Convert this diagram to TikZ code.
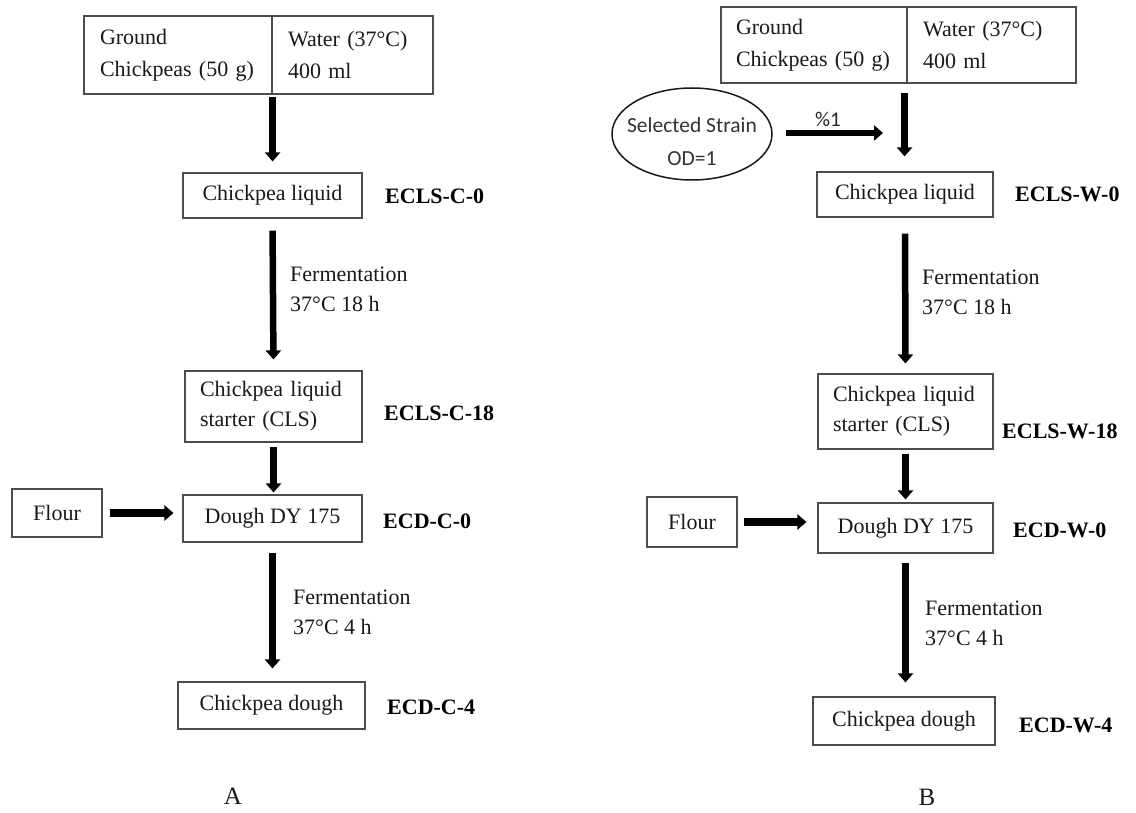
\documentclass[tikz,border=0pt]{standalone}
\usepackage{fontspec}
\setmainfont{Liberation Serif}
\newfontfamily\calibri{Carlito}
\usetikzlibrary{arrows.meta,shapes.geometric}
\newcommand\fsa{\fontsize{22}{30}\selectfont}
\newcommand\fsb{\fontsize{22}{32.5}\selectfont}
\newcommand\fsc{\fontsize{21.5}{33}\selectfont\calibri}
\begin{document}
\begin{tikzpicture}[x=1pt,y=-1pt,
  box/.style={draw=black!70, line width=1.1pt, inner sep=0pt, font=\fsa, text=black!90},
  topbox/.style={box, font=\fsb, align=left, minimum height=78pt},
  lbl/.style={anchor=west, inner sep=0pt, font=\fsa\bfseries, text=black},
  cond/.style={anchor=west, inner sep=0pt, font=\fsa, align=left, text=black!90},
  figcap/.style={inner sep=0pt, font=\fontsize{25}{28}\selectfont, text=black!90},
  arr/.style={line width=6.5pt, -{Triangle[width=15pt,length=9pt]}},
  harr/.style={line width=7.5pt, -{Triangle[width=15pt,length=9pt]}}]
\useasboundingbox (0,0) rectangle (1136,813);

% ---------------- A ----------------
\node[topbox, minimum width=188pt, text width=156pt] (tl) at (178,55) {Ground\\Chickpeas (50 g)};
\node[topbox, minimum width=161pt, text width=129pt] (tr) at (352.5,55) {Water (37°C)\\400 ml};
\node[box, minimum width=179pt, minimum height=45pt] (l1) at (272.5,195.5) {Chickpea liquid};
\node[box, minimum width=177pt, minimum height=71pt, text width=147pt, align=left] (l2) at (273.5,406.5) {Chickpea liquid\\starter (CLS)};
\node[box, minimum width=179pt, minimum height=47pt] (l3) at (272.5,518.5) {Dough DY 175};
\node[box, minimum width=90pt, minimum height=48pt] (lf) at (57,513) {Flour};
\node[box, minimum width=187pt, minimum height=47pt] (l4) at (271.5,705.5) {Chickpea dough};

\draw[arr, shorten <=2pt, shorten >=11pt] (tl.south east) -- (tl.south east |- l1.north);
\draw[arr, shorten <=12pt, shorten >=11pt] (l1.south) -- (l2.north);
\draw[arr, shorten <=4pt, shorten >=2pt] (l2.south) -- (l2.south |- l3.north);
\draw[harr, shorten <=7pt, shorten >=9pt] (lf.east) -- (lf.east -| l3.west);
\draw[arr, shorten <=10pt, shorten >=13pt] (l3.south) -- (l3.south |- l4.north);

\node[cond] (fl1) at (290,289) {Fermentation\\37°C 18 h};
\node[cond] (fl2) at (293,612) {Fermentation\\37°C 4 h};
\node[lbl] (el1) at (385,196) {ECLS-C-0};
\node[lbl] (el2) at (384,413) {ECLS-C-18};
\node[lbl] (el3) at (383,521) {ECD-C-0};
\node[lbl] (el4) at (387,707) {ECD-C-4};
\node[figcap] (capA) at (233,796) {A};

% ---------------- B ----------------
\node[topbox, minimum width=186pt, minimum height=76pt, text width=156pt] (rtl) at (814,45) {Ground\\Chickpeas (50 g)};
\node[topbox, minimum width=169pt, minimum height=76pt, text width=137pt] (rtr) at (991.5,45) {Water (37°C)\\400 ml};
\node[draw=black!90, line width=1.5pt, ellipse, minimum width=160pt, minimum height=92pt, inner sep=0pt,
      label={[font=\fsc, align=center, text=black!80, yshift=-8pt]center:Selected Strain\\OD=1}] (ell) at (692,134) {};
\coordinate (sj) at (883,133);
\node[box, minimum width=176pt, minimum height=45pt] (r1) at (905,194.5) {Chickpea liquid};
\node[box, minimum width=175pt, minimum height=75pt, text width=145pt, align=left] (r2) at (905.5,411.5) {Chickpea liquid\\starter (CLS)};
\node[box, minimum width=175pt, minimum height=50pt] (r3) at (905.5,528) {Dough DY 175};
\node[box, minimum width=90pt, minimum height=50pt] (rf) at (692,522) {Flour};
\node[box, minimum width=182pt, minimum height=48pt] (r4) at (904,721) {Chickpea dough};

\draw[arr, shorten <=9pt, shorten >=15pt] ([xshift=-3pt]rtl.south east) -- ([xshift=-3pt]rtl.south east |- r1.north);
\draw[arr, shorten <=13pt] (ell.east |- sj) -- (sj) node[midway, above=3pt, font=\fontsize{21}{24}\selectfont\calibri, text=black!85, inner sep=0pt] (pct) {\%1};
\draw[arr, shorten <=16pt, shorten >=10pt] (r1.south) -- (r2.north);
\draw[arr, shorten <=4pt, shorten >=3pt] (r2.south) -- (r2.south |- r3.north);
\draw[harr, shorten <=6pt, shorten >=11pt] (rf.east) -- (rf.east -| r3.west);
\draw[arr, shorten <=9pt, shorten >=14pt] (r3.south) -- (r3.south |- r4.north);

\node[cond] (fr1) at (922,292) {Fermentation\\37°C 18 h};
\node[cond] (fr2) at (925,623) {Fermentation\\37°C 4 h};
\node[lbl] (er1) at (1015,194) {ECLS-W-0};
\node[lbl] (er2) at (1002,431) {ECLS-W-18};
\node[lbl] (er3) at (1013,530) {ECD-W-0};
\node[lbl] (er4) at (1019,725) {ECD-W-4};
\node[figcap] (capB) at (927,797) {B};
\end{tikzpicture}
\end{document}
